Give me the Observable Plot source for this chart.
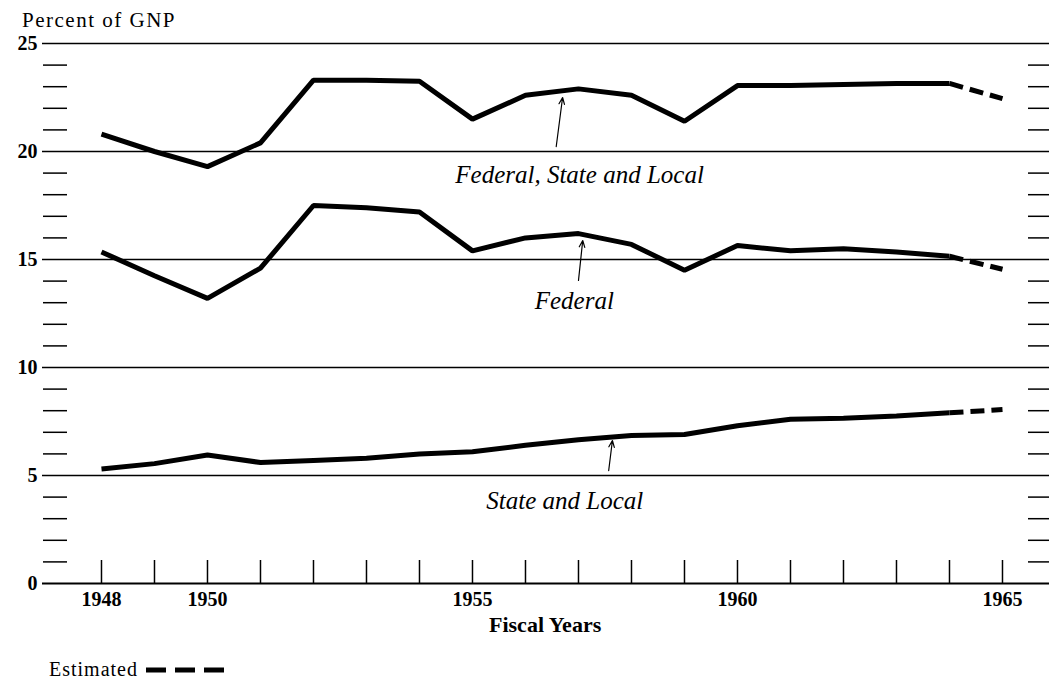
<!DOCTYPE html>
<html>
<head>
<meta charset="utf-8">
<script src="https://cdn.jsdelivr.net/npm/d3@7"></script>
<script src="https://cdn.jsdelivr.net/npm/@observablehq/plot@0.6"></script>
<style>
  body { margin: 0; background: #fff; }
  #wrap { position: relative; width: 1049px; height: 682px; font-family: "Liberation Serif", "Times New Roman", serif; color: #000; overflow: hidden; }
  #chart > svg { display: block; }
  .lbl { position: absolute; line-height: 1; white-space: nowrap; font-family: "Liberation Serif", "Times New Roman", serif; }
  .lbl svg { display: inline-block; }
</style>
</head>
<body>
<div id="wrap">
  <div id="chart"></div>
  <div class="lbl" id="ytitle" style="left:22px; top:10px; font-size:21px; letter-spacing:1.5px;">Percent of GNP</div>
  <div class="lbl" id="xtitle" style="left:489px; top:614px; font-size:22px; font-weight:bold;">Fiscal Years</div>
  <div class="lbl" id="legend" style="left:49px; top:659px; font-size:20px; letter-spacing:1px;">Estimated <svg width="80" height="10" style="vertical-align:1px"><line x1="2" y1="5" x2="80" y2="5" stroke="#000" stroke-width="5" stroke-dasharray="20,9"/></svg></div>
</div>
<script>
// ---- data ----
const years      = [1948, 1949, 1950, 1951, 1952, 1953, 1954, 1955, 1956, 1957, 1958, 1959, 1960, 1961, 1962, 1963, 1964, 1965];
const total      = [20.8, 20.0, 19.3, 20.4, 23.3, 23.3, 23.25, 21.5, 22.6, 22.9, 22.6, 21.4, 23.05, 23.05, 23.1, 23.15, 23.15, 22.45];
const federal    = [15.35, 14.25, 13.2, 14.6, 17.5, 17.4, 17.2, 15.4, 16.0, 16.2, 15.7, 14.5, 15.65, 15.4, 15.5, 15.35, 15.15, 14.55];
const stateLocal = [5.3, 5.55, 5.95, 5.6, 5.7, 5.8, 6.0, 6.1, 6.4, 6.65, 6.85, 6.9, 7.3, 7.6, 7.65, 7.75, 7.9, 8.05];
const seriesNames = ["Federal, State and Local", "Federal", "State and Local"];
const lastActualYear = 1964;
const yTickLabels = [0, 5, 10, 15, 20, 25];
const xTickLabels = [1948, 1950, 1955, 1960, 1965];
const minorY = d3.range(1, 25).filter(v => v % 5 !== 0);

// annotation label positions (data units) and arrows
const labelX = [1957.02, 1956.92, 1956.74];
const labelY = [18.56, 12.69, 3.47];
const arrowX1 = [1956.58, 1957.0, 1957.57];
const arrowY1 = [20.23, 14.03, 5.23];
const arrowX2 = [1956.70, 1957.08, 1957.64];
const arrowY2 = [22.5, 15.88, 6.62];

// ---- build tables ----
const seriesValues = [total, federal, stateLocal];
const rows = [];
seriesValues.forEach((vals, si) => years.forEach((yr, i) => rows.push({series: seriesNames[si], year: yr, value: vals[i]})));
const actual = rows.filter(d => d.year <= lastActualYear);
const estimated = rows.filter(d => d.year >= lastActualYear);
const labels = seriesNames.map((s, i) => ({text: s, x: labelX[i], y: labelY[i]}));
const arrows = seriesNames.map((s, i) => ({x1: arrowX1[i], y1: arrowY1[i], x2: arrowX2[i], y2: arrowY2[i]}));

const chart = Plot.plot({
  width: 1049,
  height: 682,
  marginLeft: 42,
  marginRight: 0,
  marginTop: 43,
  marginBottom: 99,
  style: {fontFamily: "Liberation Serif, Times New Roman, serif", fontSize: "20px", background: "white", color: "black"},
  x: {domain: [1946.887, 1965.887], axis: null},
  y: {domain: [0, 25], axis: null},
  marks: [
    Plot.ruleY([5, 10, 15, 20, 25], {stroke: "black", strokeWidth: 1.5}),
    Plot.ruleY([0], {stroke: "black", strokeWidth: 1.8}),
    // minor ticks left
    Plot.axisY(minorY, {anchor: "left", tickSize: 24, dx: 25, tickFormat: () => "", strokeWidth: 1.5, label: null}),
    // minor ticks right
    Plot.axisY(minorY, {anchor: "right", tickSize: 24, dx: -22, tickFormat: () => "", strokeWidth: 1.5, label: null}),
    // y labels
    Plot.axisY(yTickLabels, {anchor: "left", tickSize: 0, tickPadding: 5, fontSize: 20, fontWeight: "bold", label: null}),
    // x ticks (upward)
    Plot.axisX(years, {anchor: "bottom", tickSize: 23, dy: -23, tickFormat: () => "", strokeWidth: 1.5, label: null}),
    // x labels
    Plot.axisX(xTickLabels, {anchor: "bottom", tickSize: 0, tickPadding: 8, tickFormat: d => String(d), fontSize: 20, fontWeight: "bold", label: null}),
    Plot.line(actual, {x: "year", y: "value", z: "series", stroke: "black", strokeWidth: 5, strokeLinejoin: "miter", strokeLinecap: "butt"}),
    Plot.line(estimated, {x: "year", y: "value", z: "series", stroke: "black", strokeWidth: 5, strokeDasharray: "14,7", strokeLinecap: "butt"}),
    Plot.arrow(arrows, {x1: "x1", y1: "y1", x2: "x2", y2: "y2", stroke: "black", strokeWidth: 1.2, headLength: 9, headAngle: 45}),
    Plot.text(labels, {x: "x", y: "y", text: "text", fontStyle: "italic", fontSize: 25, lineAnchor: "bottom", textAnchor: "middle", fill: "black", ariaLabel: "series-labels"})
  ]
});
document.getElementById("chart").appendChild(chart);
d3.select(chart).selectAll('g[aria-label="series-labels"] text')
  .attr("word-spacing", "9px").attr("letter-spacing", "0.8px");
</script>
</body>
</html>
